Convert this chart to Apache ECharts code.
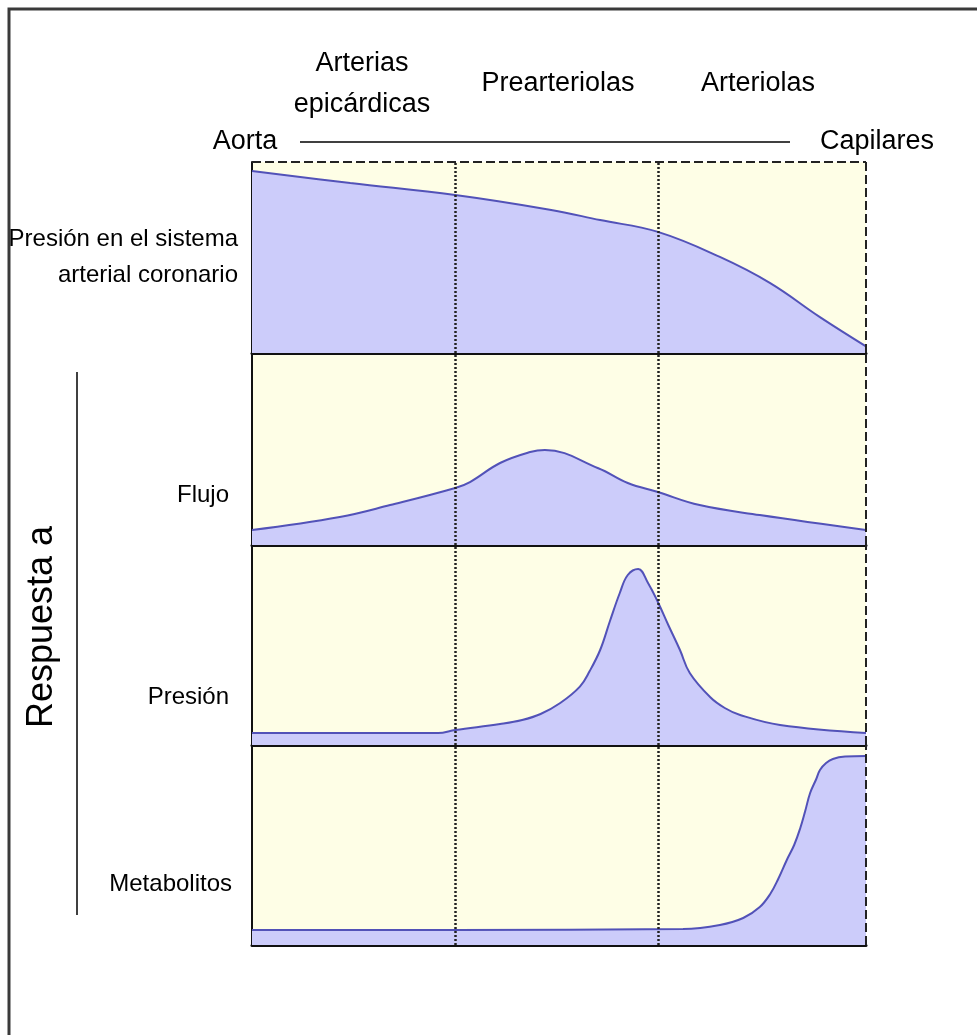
<!DOCTYPE html>
<html>
<head>
<meta charset="utf-8">
<script src="https://cdn.jsdelivr.net/npm/echarts@6/dist/echarts.min.js"></script>
<style>
  html, body { margin: 0; padding: 0; background: #fff; }
  #main { width: 977px; height: 1035px; }
</style>
</head>
<body>
<div id="main"></div>
<script>
// posicion a lo largo del arbol arterial (0 = aorta, 100 = capilares)
var presionX = [0, 16, 33.1, 48.5, 56.7, 66.1, 76.2, 84.4, 92.5, 100];
var presionY = [95.3, 89, 82.7, 75, 69.6, 63.4, 50.3, 36.6, 18.8, 3.5];

var flujoX = [0, 14.3, 22.5, 33.1, 35.5, 40.4, 45.3, 47.7, 56.4, 61.2, 66.1, 72.9, 82.7, 100];
var flujoY = [7.8, 14.6, 20.8, 29.7, 32.8, 42.7, 48.4, 49.5, 40, 32.3, 27.6, 20.8, 15.6, 7.8];

var respPresionX = [0, 30.3, 33.1, 40.4, 44, 47, 50.2, 53.4, 55.0, 56.7, 58.3, 59.9, 61.2, 62.9, 64.5, 66.1, 67.8, 69.7, 71.3, 74.6, 77.0, 79.5, 86, 100];
var respPresionY = [6, 6, 7.5, 10.5, 12.5, 15.5, 21, 29.2, 37, 47.5, 62, 76, 85, 88, 81, 71.5, 60, 47.5, 36, 24, 18.5, 15, 10, 6];

var metabX = [0, 33.1, 70.2, 76.2, 80, 82.7, 84.4, 85.7, 87.1, 88.3, 89.3, 90.1, 90.9, 91.9, 92.5, 93.5, 94.6, 96.6, 100];
var metabY = [7.5, 7.5, 8, 10, 13.5, 19, 25.5, 33, 42.5, 50, 58.5, 67, 76, 83, 87.5, 91, 93, 94.2, 94.5];

// limites entre segmentos (lineas punteadas)
var limites = [33.1, 66.1];

var segmentos = ['Arterias\nepicárdicas', 'Prearteriolas', 'Arteriolas'];
var segmentosX = [362, 558, 758];
var paneles = ['Presión en el sistema\narterial coronario', 'Flujo', 'Presión', 'Metabolitos'];

function pares(xs, ys) {
  return xs.map(function (x, i) { return [x, ys[i]]; });
}

var chart = echarts.init(document.getElementById('main'));

var grids = [
  { left: 252, width: 614, top: 162, height: 191 },
  { left: 252, width: 614, top: 353, height: 192 },
  { left: 252, width: 614, top: 545, height: 200 },
  { left: 252, width: 614, top: 745, height: 200 }
];
grids.forEach(function (g) {
  g.show = true;
  g.backgroundColor = '#fefee6';
  g.borderWidth = 0;
});

var datos = [
  pares(presionX, presionY),
  pares(flujoX, flujoY),
  pares(respPresionX, respPresionY),
  pares(metabX, metabY)
];

var xAxes = grids.map(function (g, i) {
  return {
    gridIndex: i, type: 'value', min: 0, max: 100,
    axisLine: { show: true, onZero: false, lineStyle: { color: '#111', width: 3 } },
    axisTick: { show: false }, axisLabel: { show: false }, splitLine: { show: false }
  };
});
var yAxes = grids.map(function (g, i) {
  return {
    gridIndex: i, type: 'value', min: 0, max: 100,
    axisLine: { show: true, lineStyle: { color: '#111', width: 2 } },
    axisTick: { show: false }, axisLabel: { show: false }, splitLine: { show: false }
  };
});

var series = datos.map(function (d, i) {
  var lineas = limites.map(function (x) {
    return { xAxis: x, lineStyle: { type: [2, 2], color: '#222', width: 2.5 } };
  });
  lineas.push({ xAxis: 100, lineStyle: { type: [9, 4], color: '#222', width: 2 } });
  if (i === 0) {
    lineas.push({ yAxis: 100, lineStyle: { type: [9, 4], color: '#222', width: 2 } });
  }
  return {
    type: 'line',
    xAxisIndex: i, yAxisIndex: i,
    data: d,
    smooth: 0.4,
    symbol: 'none',
    lineStyle: { color: '#5252b8', width: 2 },
    areaStyle: { color: '#ccccfa', opacity: 1 },
    z: 2,
    markLine: {
      silent: true, symbol: 'none', label: { show: false },
      animation: false,
      data: lineas
    }
  };
});

var graficos = [
  { type: 'rect', shape: { x: 9, y: 9, width: 1000, height: 1100 },
    style: { fill: 'none', stroke: '#3a3a3a', lineWidth: 3 }, z: 0 },
  { type: 'line', shape: { x1: 300, y1: 142, x2: 790, y2: 142 },
    style: { stroke: '#000', lineWidth: 1.5 } },
  { type: 'line', shape: { x1: 77, y1: 372, x2: 77, y2: 915 },
    style: { stroke: '#000', lineWidth: 1.5 } },
  { type: 'text', x: 245, y: 142, style: { text: 'Aorta', font: '27px Liberation Sans', align: 'center', verticalAlign: 'middle', fill: '#000' } },
  { type: 'text', x: 877, y: 142, style: { text: 'Capilares', font: '27px Liberation Sans', align: 'center', verticalAlign: 'middle', fill: '#000' } },
  { type: 'text', x: 42, y: 627, rotation: Math.PI / 2,
    style: { text: 'Respuesta a', font: '36px Liberation Sans', align: 'center', verticalAlign: 'middle', fill: '#000' } }
];
segmentos.forEach(function (s, i) {
  graficos.push({ type: 'text', x: segmentosX[i], y: 84,
    style: { text: s, font: '27px Liberation Sans', lineHeight: 41, align: 'center', verticalAlign: 'middle', fill: '#000' } });
});
var panelY = [257, 495, 697, 884];
var panelX = [238, 229, 229, 232];
paneles.forEach(function (p, i) {
  graficos.push({ type: 'text', x: panelX[i], y: panelY[i],
    style: { text: p, font: '24px Liberation Sans', lineHeight: 36, align: 'right', verticalAlign: 'middle', fill: '#000' } });
});

chart.setOption({
  animation: false,
  backgroundColor: '#fff',
  grid: grids,
  xAxis: xAxes,
  yAxis: yAxes,
  series: series,
  graphic: graficos
});
</script>
</body>
</html>
